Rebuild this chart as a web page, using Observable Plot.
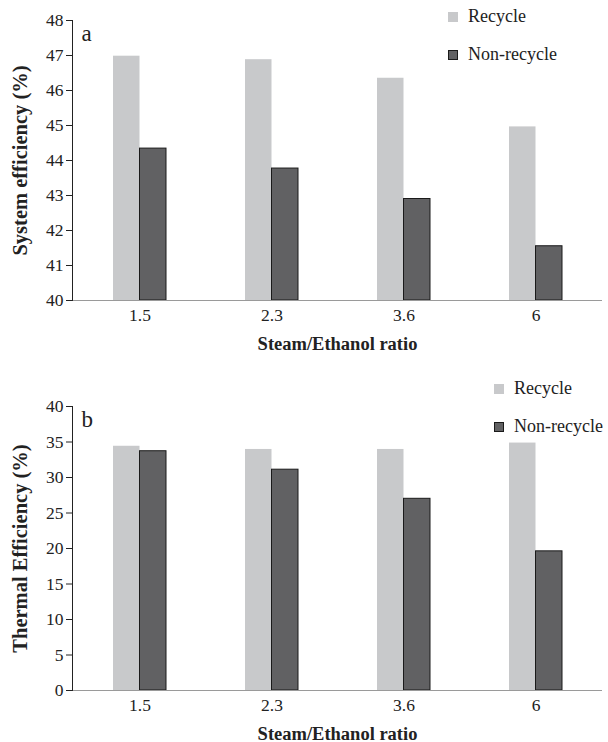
<!DOCTYPE html>
<html>
<head>
<meta charset="utf-8">
<script src="https://cdn.jsdelivr.net/npm/d3@7"></script>
<script src="https://cdn.jsdelivr.net/npm/@observablehq/plot@0.6"></script>
<style>
  html, body { margin: 0; padding: 0; background: #fff; }
  .chart { position: relative; width: 608px; }
  .chart svg { display: block; }
  .chart g[aria-label="y-axis tick label"] text, .chart g[aria-label="x-axis tick label"] text { font-size: 17.5px; }
  .chart g[aria-label="y-axis label"] text { font-weight: bold; font-size: 20.5px; }
  .chart g[aria-label="x-axis label"] text { font-weight: bold; font-size: 18.5px; }
  .legend { position: absolute; font-family: 'Liberation Serif', serif; font-size: 18px; color: #222; }
  .legend .item { position: absolute; white-space: nowrap; display: flex; align-items: center; height: 21px; }
  .legend .sw { display: inline-block; width: 10px; height: 10px; box-sizing: border-box; margin-right: 10px; }
</style>
</head>
<body>
<div id="root"></div>
<script>
const ratios = ["1.5", "2.3", "3.6", "6"];
const series = ["Recycle", "Non-recycle"];
const colors = ["#c8c9cb", "#616163"];
const systemRecycle = [46.98, 46.88, 46.35, 44.96];
const systemNonRecycle = [44.34, 43.77, 42.9, 41.55];
const thermalRecycle = [34.4, 33.95, 33.95, 34.85];
const thermalNonRecycle = [33.7, 31.1, 27.0, 19.6];

const W = 608, ML = 72, MR = 6;
const xOpts = {type: "band", domain: ratios, paddingInner: 0.6, paddingOuter: 0.3};
const half = Plot.scale({x: {...xOpts, range: [ML, W - MR]}}).bandwidth / 2;

function table(rec, non) {
  const rows = [];
  ratios.forEach((r, i) => {
    rows.push({ratio: r, series: series[0], value: rec[i]});
    rows.push({ratio: r, series: series[1], value: non[i]});
  });
  return rows;
}

function chart({data, yDomain, yTicks, yLabel, letter, height, marginTop, legendTop, legendLeft}) {
  const base = yDomain[0];
  const plot = Plot.plot({
    width: W,
    height,
    marginLeft: ML,
    marginRight: MR,
    marginTop,
    marginBottom: 52,
    style: {fontFamily: "'Liberation Serif', serif", fontSize: "17px", color: "#222", background: "#fff"},
    x: xOpts,
    y: {domain: yDomain},
    color: {domain: series, range: colors},
    marks: [
      Plot.barY(data.filter(d => d.series === series[0]), {x: "ratio", y1: base, y2: "value", fill: "series", insetRight: half}),
      Plot.barY(data.filter(d => d.series === series[1]), {x: "ratio", y1: base, y2: "value", fill: "series", insetLeft: half, stroke: "#1a1a1a", strokeWidth: 1}),
      Plot.ruleY([base], {stroke: "#9a9a9a", strokeWidth: 1.2}),
      Plot.frame({anchor: "left", stroke: "#222"}),
      Plot.axisY({ticks: yTicks, tickSize: 6, tickPadding: 3, fontSize: 17.5, label: yLabel, labelAnchor: "center", labelOffset: 60, labelArrow: "none"}),
      Plot.axisX({anchor: "bottom", tickSize: 0, tickPadding: 8, fontSize: 17.5, label: "Steam/Ethanol ratio", labelAnchor: "center", labelOffset: 49, labelArrow: "none"}),
      Plot.text([letter], {frameAnchor: "top-left", dx: 9, dy: 20, textAnchor: "start", lineAnchor: "bottom", fontSize: 23})
    ]
  });
  const wrap = document.createElement("div");
  wrap.className = "chart";
  wrap.appendChild(plot);
  const legend = document.createElement("div");
  legend.className = "legend";
  legend.style.left = legendLeft + "px";
  legend.style.top = legendTop + "px";
  series.forEach((s, i) => {
    const item = document.createElement("div");
    item.className = "item";
    item.style.top = (i * 38) + "px";
    const sw = document.createElement("span");
    sw.className = "sw";
    sw.style.background = colors[i];
    if (i === 1) sw.style.border = "1px solid #1a1a1a";
    item.appendChild(sw);
    item.appendChild(document.createTextNode(s));
    legend.appendChild(item);
  });
  wrap.appendChild(legend);
  return wrap;
}

const root = document.getElementById("root");
root.appendChild(chart({
  data: table(systemRecycle, systemNonRecycle),
  yDomain: [40, 48], yTicks: d3.range(40, 49, 1),
  yLabel: "System efficiency (%)", letter: "a",
  height: 352, marginTop: 20, legendTop: 6, legendLeft: 448
}));
root.appendChild(chart({
  data: table(thermalRecycle, thermalNonRecycle),
  yDomain: [0, 40], yTicks: d3.range(0, 41, 5),
  yLabel: "Thermal Efficiency (%)", letter: "b",
  height: 390, marginTop: 54, legendTop: 26, legendLeft: 494
}));
</script>
</body>
</html>
